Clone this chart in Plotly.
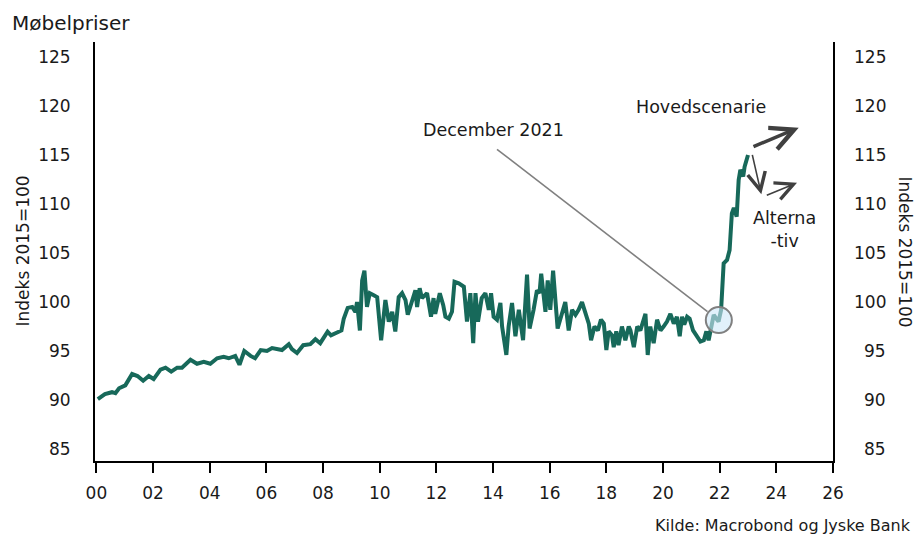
import plotly.graph_objects as go

# ---- data (decimal year, index 2015=100) ----
years = [0.05, 0.3, 0.55, 0.67, 0.8, 1.02, 1.26, 1.45, 1.65, 1.85, 2.02, 2.26, 2.44, 2.64, 2.85,
         3.02, 3.32, 3.55, 3.79, 4.02, 4.26, 4.49, 4.67, 4.9, 5.05, 5.22, 5.44, 5.6, 5.8, 6.02,
         6.2, 6.55, 6.79, 6.9, 7.08, 7.3, 7.55, 7.73, 7.9, 8.16, 8.28, 8.55, 8.65, 8.73, 8.87,
         9.03, 9.14, 9.2, 9.3, 9.38, 9.46, 9.55, 9.65, 9.79, 9.91, 10.05, 10.2, 10.32, 10.44,
         10.55, 10.67, 10.79, 10.91, 10.99, 11.14, 11.26, 11.32, 11.41, 11.49, 11.67, 11.81,
         11.9, 11.96, 12.12, 12.24, 12.32, 12.44, 12.55, 12.64, 12.79, 12.97, 13.08, 13.2, 13.3,
         13.38, 13.47, 13.6, 13.73, 13.85, 13.93, 14.02, 14.14, 14.26, 14.32, 14.47, 14.55,
         14.67, 14.79, 14.91, 15.06, 15.2, 15.29, 15.43, 15.55, 15.64, 15.7, 15.85, 15.93,
         16.02, 16.12, 16.28, 16.44, 16.55, 16.67, 16.79, 16.91, 17.02, 17.14, 17.26, 17.38,
         17.46, 17.58, 17.7, 17.81, 17.91, 18.0, 18.08, 18.2, 18.26, 18.35, 18.43, 18.55,
         18.67, 18.79, 18.85, 18.97, 19.09, 19.2, 19.38, 19.46, 19.55, 19.67, 19.79, 19.91,
         20.02, 20.14, 20.26, 20.38, 20.49, 20.59, 20.67, 20.75, 20.85, 20.94, 21.06, 21.2,
         21.32, 21.44, 21.53, 21.61, 21.7, 21.79, 21.88, 21.96, 22.05, 22.1, 22.14, 22.26,
         22.35, 22.43, 22.5, 22.6, 22.67, 22.73, 22.83, 22.88, 23.0]
index_values = [90.1, 90.6, 90.8, 90.7, 91.2, 91.5, 92.65, 92.45, 91.97, 92.45, 92.14, 93.1, 93.3,
                92.9, 93.3, 93.3, 94.1, 93.7, 93.9, 93.7, 94.26, 94.4, 94.26, 94.5, 93.6, 95.0,
                94.5, 94.26, 95.1, 95.0, 95.3, 95.1, 95.7, 95.2, 94.8, 95.6, 95.7, 96.2, 95.8,
                96.97, 96.6, 96.97, 97.1, 98.3, 99.4, 99.5, 99.0, 100.0, 97.1, 102.2, 103.2,
                99.5, 100.9, 100.7, 100.5, 96.1, 100.2, 98.0, 99.0, 97.0, 100.5, 100.9, 100.2,
                98.7, 100.2, 101.2, 99.5, 101.4, 100.4, 100.9, 98.5, 100.4, 98.8, 100.9, 99.7,
                98.5, 98.3, 99.0, 102.07, 101.9, 101.56, 98.0, 100.9, 95.8, 100.9, 98.0, 100.4,
                100.9, 99.2, 100.9, 98.5, 98.2, 99.9, 97.5, 94.6, 97.5, 99.9, 96.5, 99.2, 96.1,
                102.8, 97.3, 99.2, 101.2, 100.9, 102.9, 99.0, 102.2, 99.2, 103.2, 97.3, 98.8,
                100.0, 97.1, 99.2, 98.7, 99.2, 100.0, 98.8, 97.8, 96.1, 97.5, 97.1, 98.2, 97.8,
                95.1, 97.0, 96.6, 95.4, 97.0, 95.6, 97.5, 96.1, 97.5, 97.1, 95.4, 97.5, 97.1,
                98.8, 94.6, 97.5, 95.8, 98.2, 97.1, 97.5, 98.0, 98.8, 97.8, 98.5, 96.5, 98.5,
                97.7, 98.5, 98.3, 97.1, 96.5, 95.96, 96.1, 97.0, 96.1, 97.65, 98.7, 98.3, 98.0,
                99.2, 103.3, 103.95, 104.3, 105.3, 109.05, 109.6, 108.7, 112.45, 113.5, 112.8,
                113.8, 115.0]

x_tick_vals = list(range(0, 27, 2))
x_tick_text = ["00", "02", "04", "06", "08", "10", "12", "14", "16", "18", "20", "22", "24", "26"]
y_tick_vals = [85, 90, 95, 100, 105, 110, 115, 120, 125]

# highlight circle (December 2021) and annotation geometry in data units
circle_center = (21.97, 98.16)
circle_radius = (0.46, 1.33)
dec_line = ((14.14, 115.58), (21.57, 99.01))
dec_label = (14.0, 117.6)
main_arrow = ((23.14, 115.79), (24.79, 117.79))
alt_arrow1 = ((23.14, 115.17), (23.47, 110.99))
alt_arrow2 = ((23.61, 110.82), (24.73, 112.17))
hoved_label = (21.35, 119.9)
alt_label = (24.3, 107.4)

FONT = "DejaVu Sans"
LINE_GREEN = "#17695a"
TXT = "#1a1a1a"

fig = go.Figure()
fig.add_trace(go.Scatter(x=years, y=index_values, mode="lines",
                         line=dict(color=LINE_GREEN, width=4), hoverinfo="skip",
                         showlegend=False))

fig.update_layout(
    width=916, height=536,
    margin=dict(l=95, r=83, t=42, b=75),
    paper_bgcolor="white", plot_bgcolor="white",
    font=dict(family=FONT, size=17, color=TXT),
    showlegend=False,
    title=dict(text="Møbelpriser", font=dict(family=FONT, size=20, color=TXT),
               xref="container", yref="container", x=12 / 916, xanchor="left",
               y=1 - 23 / 536, yanchor="middle"),
    xaxis=dict(range=[-0.05, 26.0], tickvals=x_tick_vals, ticktext=x_tick_text,
               showgrid=False, zeroline=False, showline=True, linecolor="black", linewidth=2,
               ticks="outside", ticklen=10, tickwidth=2, tickcolor="black",
               tickfont=dict(size=17, color=TXT), ticklabelstandoff=6),
    yaxis=dict(range=[83.78, 126.53], tickvals=y_tick_vals, showgrid=False, zeroline=False,
               showline=True, mirror=True, linecolor="black", linewidth=2, ticks="",
               tickfont=dict(size=17, color=TXT), ticklabelstandoff=19),
)

shapes = []
shapes.append(dict(type="line", xref="x", yref="y",
                   x0=dec_line[0][0], y0=dec_line[0][1], x1=dec_line[1][0], y1=dec_line[1][1],
                   line=dict(color="#808080", width=1.6)))
shapes.append(dict(type="circle", xref="x", yref="y", layer="above",
                   x0=circle_center[0] - circle_radius[0], x1=circle_center[0] + circle_radius[0],
                   y0=circle_center[1] - circle_radius[1], y1=circle_center[1] + circle_radius[1],
                   fillcolor="rgba(205,232,248,0.6)", line=dict(color="#808080", width=2)))
fig.update_layout(shapes=shapes)

ann = []
# right-side tick labels (right aligned)
for v in y_tick_vals:
    ann.append(dict(xref="paper", yref="y", x=1, y=v, xanchor="right", yanchor="middle",
                    xshift=55, text=str(v), showarrow=False,
                    font=dict(size=17, color=TXT)))
# axis titles
ann.append(dict(xref="paper", yref="paper", x=0, y=0.5, xshift=-73, textangle=-90,
                xanchor="center", yanchor="middle", text="Indeks 2015=100", showarrow=False,
                font=dict(size=17, color=TXT)))
ann.append(dict(xref="paper", yref="paper", x=1, y=0.5, xshift=72, textangle=90,
                xanchor="center", yanchor="middle", text="Indeks 2015=100", showarrow=False,
                font=dict(size=17, color=TXT)))
# source
ann.append(dict(xref="paper", yref="paper", x=1, y=0, xshift=80, yshift=-64,
                xanchor="right", yanchor="middle", text="Kilde: Macrobond og Jyske Bank",
                showarrow=False, font=dict(size=16, color=TXT)))
# labels
ann.append(dict(xref="x", yref="y", x=dec_label[0], y=dec_label[1], text="December 2021",
                showarrow=False, xanchor="center", yanchor="middle",
                font=dict(size=17.5, color=TXT)))
ann.append(dict(xref="x", yref="y", x=hoved_label[0], y=hoved_label[1], text="Hovedscenarie",
                showarrow=False, xanchor="center", yanchor="middle",
                font=dict(size=17.5, color=TXT)))
ann.append(dict(xref="x", yref="y", x=alt_label[0], y=alt_label[1], text="Alterna<br>-tiv",
                showarrow=False, xanchor="center", yanchor="middle",
                font=dict(size=17.5, color=TXT)))
# arrows
for (start, end, w, size) in [(main_arrow[0], main_arrow[1], 3.5, 1.3),
                              (alt_arrow1[0], alt_arrow1[1], 1.6, 2.2),
                              (alt_arrow2[0], alt_arrow2[1], 1.6, 2.2)]:
    ann.append(dict(xref="x", yref="y", axref="x", ayref="y",
                    x=end[0], y=end[1], ax=start[0], ay=start[1], text="",
                    showarrow=True, arrowhead=5, arrowsize=size, arrowwidth=w,
                    arrowcolor="#404040", standoff=0, startstandoff=0))
fig.update_layout(annotations=ann)

fig.write_html("out.html")
